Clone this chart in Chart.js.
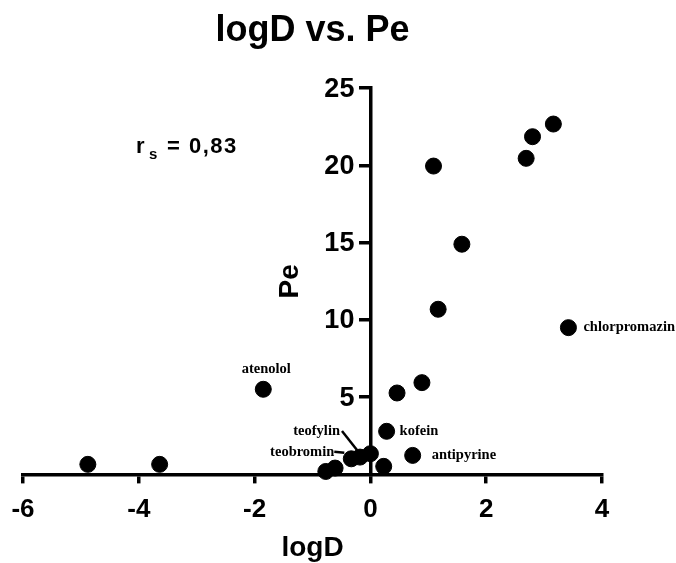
<!DOCTYPE html>
<html>
<head>
<meta charset="utf-8">
<title>logD vs. Pe</title>
<script src="https://cdn.jsdelivr.net/npm/chart.js@4/dist/chart.umd.min.js"></script>
<style>
  html, body { margin: 0; padding: 0; background: #fff; }
  #wrap { width: 676px; height: 563px; }
</style>
</head>
<body>
<div id="wrap"><canvas id="chart" width="676" height="563"></canvas></div>
<script>
// values
const logD = [-4.88, -3.64, -1.85, -0.77, -0.61, -0.33, -0.18, 0.0, 0.23, 0.28, 0.46, 0.73, 0.89, 1.09, 1.17, 1.58, 2.69, 2.80, 3.16, 3.42];
const Pe   = [0.65, 0.65, 5.51, 0.19, 0.41, 1.01, 1.12, 1.34, 0.52, 2.79, 5.27, 1.23, 5.94, 19.96, 10.69, 14.9, 20.46, 21.86, 22.68, 9.5];
const names = ['', '', 'atenolol', '', '', 'teobromin', 'teofylin', '', '', 'kofein', '', 'antipyrine', '', '', '', '', '', '', '', 'chlorpromazin'];
const xTicks = [-6, -4, -2, 0, 2, 4];
const yTicks = [5, 10, 15, 20, 25];
const rsValue = '0,83';

const SANS = "'Liberation Sans', Arial, sans-serif";
const SERIF = "'Liberation Serif', 'Times New Roman', serif";

// where each compound name sits relative to its dot
const labelPlace = {
  atenolol:      { dx: 3,   dy: -20, align: 'center' },
  kofein:        { dx: 13,  dy: 0,   align: 'left' },
  antipyrine:    { dx: 19,  dy: 0,   align: 'left' },
  chlorpromazin: { dx: 15,  dy: 0,   align: 'left' },
  teofylin:      { dx: -20, dy: -26, align: 'right', leader: [[-18, -26], [-3, -7]] },
  teobromin:     { dx: -17, dy: -7,  align: 'right', leader: [[-17, -7], [-7, -6]] }
};

// extra text: y tick labels, compound names, Pe axis title, r_s
const annotations = {
  id: 'annotations',
  afterDatasetsDraw(chart) {
    const ctx = chart.ctx;
    const xs = chart.scales.x, ys = chart.scales.y;
    const area = chart.chartArea;
    const zx = xs.getPixelForValue(0);
    ctx.save();
    ctx.fillStyle = '#000';
    ctx.strokeStyle = '#000';

    // y tick labels, left of the tick marks on the centred axis
    ctx.font = 'bold 27px ' + SANS;
    ctx.textAlign = 'right';
    ctx.textBaseline = 'middle';
    yTicks.forEach(v => {
      ctx.fillText(String(v), zx - 16, ys.getPixelForValue(v) + 1);
    });

    // compound names
    ctx.font = 'bold 14.5px ' + SERIF;
    names.forEach((n, i) => {
      if (!n) return;
      const p = labelPlace[n];
      const px = xs.getPixelForValue(logD[i]);
      const py = ys.getPixelForValue(Pe[i]);
      ctx.textAlign = p.align;
      ctx.fillText(n, px + p.dx, py + p.dy);
      if (p.leader) {
        ctx.lineWidth = 2.5;
        ctx.beginPath();
        ctx.moveTo(px + p.leader[0][0], py + p.leader[0][1]);
        ctx.lineTo(px + p.leader[1][0], py + p.leader[1][1]);
        ctx.stroke();
      }
    });

    // y axis title, reads bottom to top
    ctx.save();
    ctx.translate(zx - 80, (area.top + area.bottom) / 2);
    ctx.rotate(-Math.PI / 2);
    ctx.font = 'bold 28px ' + SANS;
    ctx.textAlign = 'center';
    ctx.fillText('Pe', 0, 0);
    ctx.restore();

    // r_s = 0,83
    ctx.textAlign = 'left';
    ctx.textBaseline = 'alphabetic';
    ctx.letterSpacing = '1.5px';
    ctx.font = 'bold 22px ' + SANS;
    ctx.fillText('r', 136, 153);
    ctx.font = 'bold 15px ' + SANS;
    ctx.fillText('s', 149, 159);
    ctx.font = 'bold 22px ' + SANS;
    ctx.fillText('= ' + rsValue, 167, 153);
    ctx.restore();
  }
};

const points = logD.map((x, i) => ({ x: x, y: Pe[i] }));

new Chart(document.getElementById('chart').getContext('2d'), {
  type: 'scatter',
  data: {
    datasets: [{
      data: points,
      backgroundColor: '#000',
      borderColor: '#000',
      pointRadius: 8,
      pointHoverRadius: 8,
      clip: false
    }]
  },
  options: {
    responsive: false,
    animation: false,
    layout: { padding: { left: 23, right: 74, top: 0, bottom: 4 } },
    plugins: {
      legend: { display: false },
      tooltip: { enabled: false },
      title: {
        display: true,
        text: 'logD vs. Pe',
        fullSize: false,
        color: '#000',
        font: { family: SANS, size: 36, weight: 'bold' },
        padding: { top: 9, bottom: 36 }
      }
    },
    scales: {
      x: {
        type: 'linear',
        position: 'bottom',
        min: -6,
        max: 4,
        afterBuildTicks: s => { s.ticks = xTicks.map(v => ({ value: v })); },
        border: { display: true, color: '#000', width: 3.5 },
        grid: { drawOnChartArea: false, drawTicks: true, tickLength: 9, color: '#000', lineWidth: 3.5 },
        ticks: { color: '#000', padding: 11, maxRotation: 0, font: { family: SANS, size: 26, weight: 'bold' } },
        title: { display: true, text: 'logD', color: '#000', padding: 0, font: { family: SANS, size: 28, weight: 'bold', lineHeight: 0.8 } }
      },
      y: {
        type: 'linear',
        position: { x: 0 },
        min: 0,
        max: 25,
        afterBuildTicks: s => { s.ticks = yTicks.map(v => ({ value: v })); },
        border: { display: true, color: '#000', width: 3.5 },
        grid: { drawOnChartArea: false, drawTicks: true, tickLength: 10, color: '#000', lineWidth: 3.5 },
        ticks: { display: false }
      }
    }
  },
  plugins: [annotations]
});
</script>
</body>
</html>
